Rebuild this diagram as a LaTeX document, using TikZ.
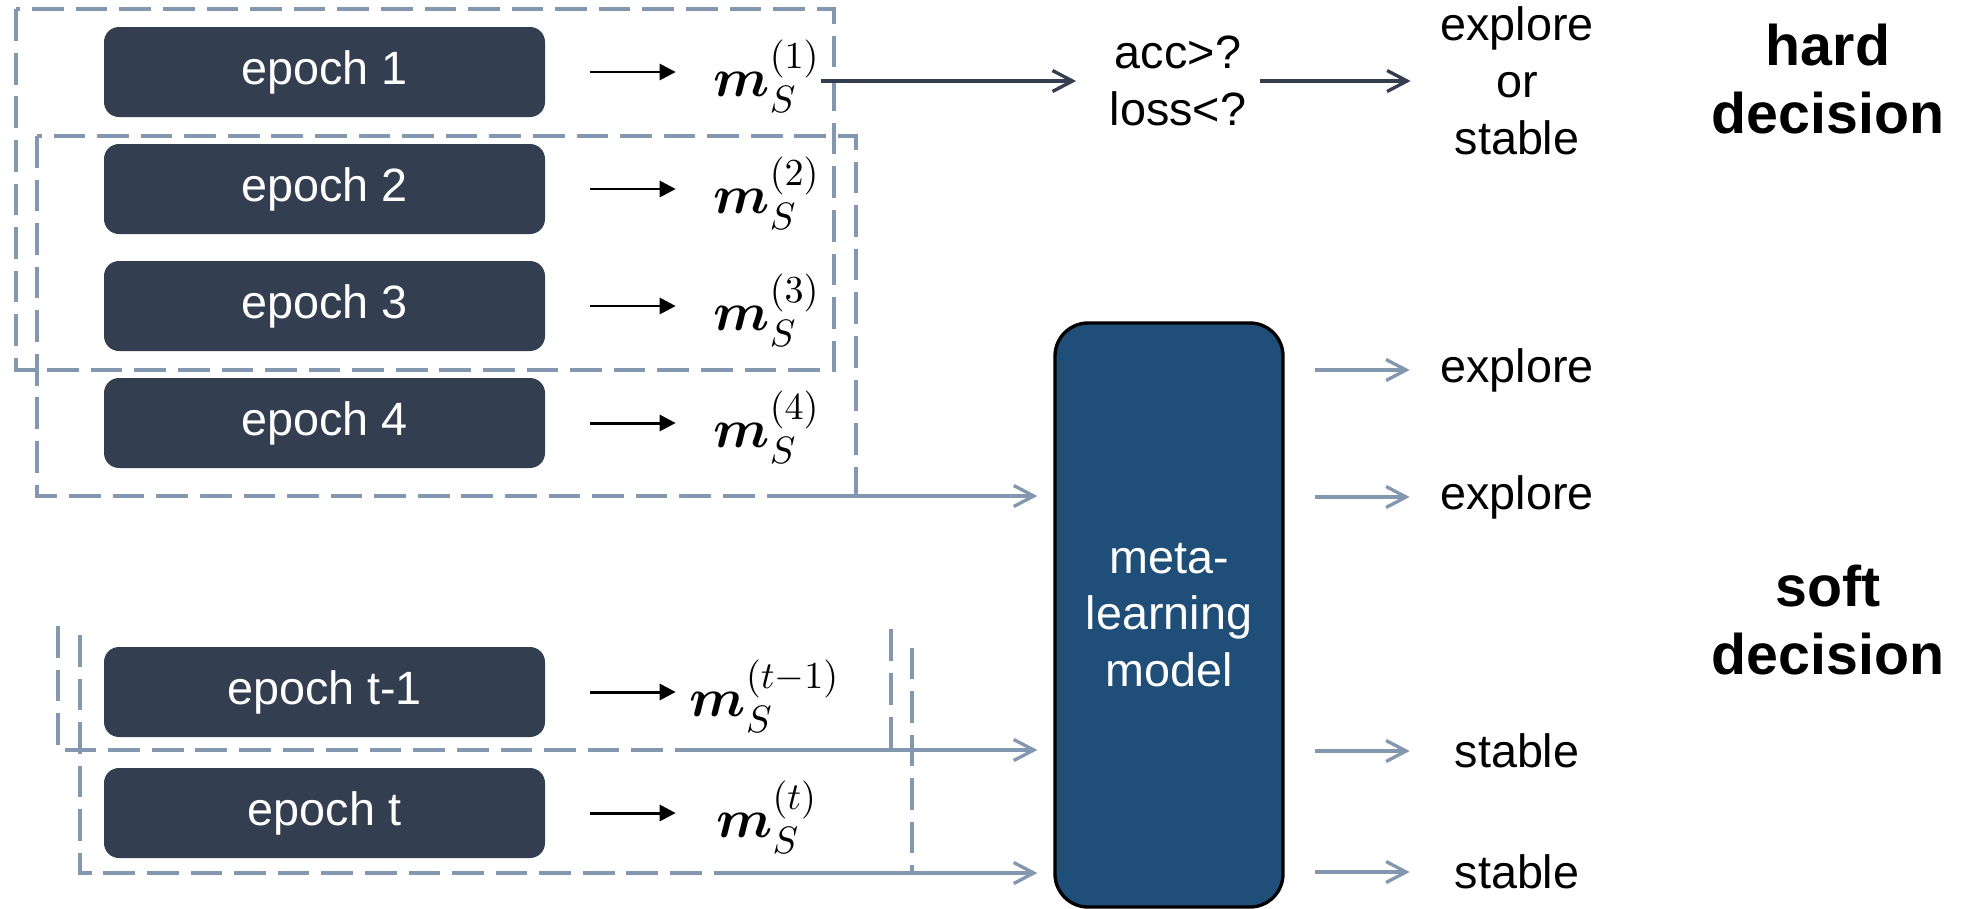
\RequirePackage{fix-cm}
\documentclass[tikz,border=0pt]{standalone}
\usepackage[no-math]{fontspec}
\setmainfont{Liberation Sans}
\usepackage{amsmath,bm}
\usetikzlibrary{arrows.meta}

\definecolor{epochblue}{HTML}{333F50}
\definecolor{metablue}{HTML}{1F4E79}
\definecolor{dashgray}{HTML}{8497B0}

\tikzstyle{epoch} = [rectangle, rounded corners=1.5mm, minimum width=4.41cm, minimum height=0.9cm, text centered, fill=epochblue, text=white, font=\fontsize{13.3}{16}\selectfont]
\tikzstyle{mvec} = [inner sep=0pt, font=\fontsize{15.5}{18}\selectfont]
\tikzstyle{txt} = [inner sep=0pt, align=center, font=\fontsize{13.3}{16.2}\selectfont]
\tikzstyle{side} = [inner sep=0pt, align=center, font=\fontsize{16.3}{19.6}\selectfont\bfseries]
\tikzstyle{metabox} = [rectangle, rounded corners=3.3mm, minimum width=2.28cm, minimum height=5.84cm, draw=black, line width=0.95pt, fill=metablue, text=white, align=center, font=\fontsize{13.3}{16}\selectfont]
\tikzstyle{group} = [dashgray, dash pattern=on 9pt off 3.4pt, line width=1.1pt]
\tikzstyle{arrow} = [line width=0.85pt, -{Triangle[length=1.6mm, width=1.6mm]}]
\tikzstyle{darrow} = [epochblue, line width=0.95pt, -{Straight Barb[length=2mm, width=2.1mm]}]
\tikzstyle{larrow} = [dashgray, line width=0.95pt, -{Straight Barb[length=2mm, width=2.1mm]}]

\begin{document}
\begin{tikzpicture}[node distance=1.17cm]
\useasboundingbox (0,0) rectangle (19.62,-9.09);

\node (ep1) [epoch] at (3.245,-0.72) {epoch 1};
\node (ep2) [epoch, below of=ep1] {epoch 2};
\node (ep3) [epoch, below of=ep2] {epoch 3};
\node (ep4) [epoch, below of=ep3] {epoch 4};
\node (epa) [epoch, below of=ep4, yshift=-1.52cm] {epoch t-1};
\node (epb) [epoch, below of=epa, yshift=-0.04cm] {epoch t};

\node (m1) [mvec, right of=ep1, xshift=3.255cm, yshift=-0.4mm] {$\bm{m}_S^{(1)}$};
\node (m2) [mvec, right of=ep2, xshift=3.255cm, yshift=-0.4mm] {$\bm{m}_S^{(2)}$};
\node (m3) [mvec, right of=ep3, xshift=3.255cm, yshift=-0.4mm] {$\bm{m}_S^{(3)}$};
\node (m4) [mvec, right of=ep4, xshift=3.255cm, yshift=-0.4mm] {$\bm{m}_S^{(4)}$};
\node (ma) [mvec, right of=epa, xshift=3.235cm, yshift=-0.4mm] {$\bm{m}_S^{(t-1)}$};
\node (mb) [mvec, right of=epb, xshift=3.255cm, yshift=-0.4mm] {$\bm{m}_S^{(t)}$};

\node (meta) [metabox] at (11.69,-6.15) {meta-\\learning\\model};

\node (check) [txt] at (11.78,-0.81) {acc>?\\loss<?};
\node (hardout) [txt] at (15.17,-0.81) {explore\\or\\stable};

\node (hard) [side] at (18.28,-0.79) {hard\\decision};
\node (soft) [side] at (18.28,-6.20) {soft\\decision};

% dashed groups
\draw [group] (0.157,-0.093) rectangle (8.34,-3.70);
\draw [group] (0.37,-1.36) rectangle (8.56,-4.96);
\draw [group] (0.58,-6.26) -- (0.58,-7.50) -- (8.91,-7.50) -- (8.91,-6.26);
\draw [group] (0.80,-6.35) -- (0.80,-8.73) -- (9.12,-8.73) -- (9.12,-6.38);

\coordinate (inA) at (7.70,-4.96);
\coordinate (inB) at (7.00,-7.50);
\coordinate (inC) at (7.40,-8.73);

% Arrows
\foreach \n in {1,2,3,4,a,b}
  \draw [arrow] ([xshift=4.4mm]ep\n.east) -- ([xshift=13mm]ep\n.east);

\draw [darrow] (m1.east |- check.west) -- ([xshift=-3.3mm]check.west);
\draw [darrow] ([xshift=1.3mm]check.east) -- ([xshift=-2.9mm]hardout.west);

\draw [larrow, shorten >=1.6mm] (inA) -- (inA -| meta.west);
\draw [larrow, shorten >=1.6mm] (inB) -- (inB -| meta.west);
\draw [larrow, shorten >=1.6mm] (inC) -- (inC -| meta.west);

\foreach \y/\w [count=\i] in {3.70/explore, 4.97/explore, 7.51/stable, 8.72/stable} {
  \node (out\i) [txt] at (15.17,-\y) {\w};
  \draw [larrow] ([xshift=3mm]meta.east |- out\i) -- ([xshift=12.5mm]meta.east |- out\i);
}

\end{tikzpicture}
\end{document}
